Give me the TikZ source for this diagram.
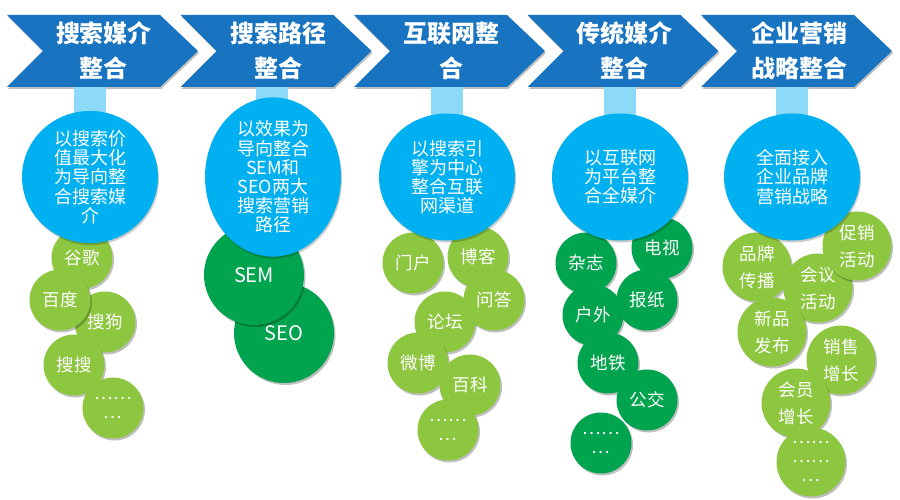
\documentclass[tikz,border=0pt]{standalone}
\usepackage{fontspec}
\setmainfont{Noto Sans CJK SC}
\usetikzlibrary{shadows,shapes.geometric}
\definecolor{chevblue}{RGB}{24,116,192}
\definecolor{stemblue}{RGB}{140,218,248}
\definecolor{circblue}{RGB}{0,176,240}
\definecolor{lgreen}{RGB}{141,198,63}
\definecolor{dgreen}{RGB}{0,163,78}
\tikzset{
  chev/.style={fill=chevblue, drop shadow={shadow xshift=1pt, shadow yshift=-2pt, opacity=0.25, fill=black}},
  head/.style={text=white, font=\bfseries\fontsize{24}{35}\selectfont, align=center, inner sep=0pt},
  stem/.style={draw=stemblue, line width=32pt},
  bcirc/.style={ellipse, fill=circblue, minimum width=136pt, minimum height=127pt, inner sep=0pt,
    text=white, align=center, font=\fontsize{18}{19.2}\selectfont,
    drop shadow={shadow xshift=1pt, shadow yshift=-2pt, opacity=0.2, fill=black}},
  gc/.style={circle, inner sep=0pt, text=white, align=center,
    drop shadow={shadow xshift=1.5pt, shadow yshift=-2pt, opacity=0.25, fill=black}},
  lg/.style={gc, fill=lgreen, minimum size=61pt, font=\fontsize{17.5}{19}\selectfont},
  dg/.style={gc, fill=dgreen, minimum size=61pt, font=\fontsize{17.5}{19}\selectfont},
  lgb/.style={gc, fill=lgreen, minimum size=69pt, font=\fontsize{17.5}{27}\selectfont},
  big/.style={gc, fill=dgreen, minimum size=100pt, font=\fontsize{20}{22}\selectfont},
}
\begin{document}
\begin{tikzpicture}[x=1pt,y=-1pt]
\useasboundingbox (0,0) rectangle (900,500);
\fill[white] (0,0) rectangle (900,500);
% chevrons
\foreach \xo in {7,180.5,354,527.5,701} {
  \fill[chev] (\xo,15) -- ++(153,0) -- ++(38,36) -- ++(-38,36) -- ++(-153,0) -- ++(36,-36) -- cycle;
}
% headers
\node[head] (h1) at (104,51) {搜索媒介\\整合};
\node[head] (h2) at (278,51) {搜索路径\\整合};
\node[head] (h3) at (451,51) {互联网整\\合};
\node[head] (h4) at (624,51) {传统媒介\\整合};
\node[head] (h5) at (799,51) {企业营销\\战略整合};
% stem tops
\coordinate (t1) at (90,87);
\coordinate (t2) at (272,87);
\coordinate (t3) at (447,87);
\coordinate (t4) at (620,87);
\coordinate (t5) at (792,87);
\coordinate (s1) at (90,130);
\coordinate (s2) at (272,130);
\coordinate (s3) at (447,130);
\coordinate (s4) at (620,130);
\coordinate (s5) at (792,130);
\foreach \i in {1,...,5} { \draw[stem] (t\i) -- (s\i); }
% column 1 green
\node[lg] (a1) at (82,258) {谷歌};
\node[lg] (a3) at (105,322) {搜狗};
\node[lg] (a2) at (60,300) {百度};
\node[lg] (a4) at (74,365) {搜搜};
\node[lg] (a5) at (113,408) {……\\…};
% column 2
\node[big] (b2) at (284,333) {SEO};
\node[big] (b1) at (254,275) {SEM};
% column 3
\node[lg] (c1) at (413,263) {门户};
\node[lg] (c2) at (478,257) {博客};
\node[lg] (c4) at (445,322) {论坛};
\node[lg] (c3) at (494,300) {问答};
\node[lg] (c5) at (418,363) {微博};
\node[lg] (c6) at (470,385) {百科};
\node[lg] (c7) at (448,430) {……\\…};
% column 4
\node[dg] (d1) at (586,263) {杂志};
\node[dg] (d2) at (662,248) {电视};
\node[dg] (d3) at (593,315) {户外};
\node[dg] (d4) at (647,300) {报纸};
\node[dg] (d5) at (608,363) {地铁};
\node[dg] (d6) at (647,400) {公交};
\node[dg] (d7) at (601,443) {……\\…};
% column 5
\node[lgb] (e2) at (757,267) {品牌\\传播};
\node[lgb] (e3) at (818,288) {会议\\活动};
\node[lgb] (e1) at (857,246) {促销\\活动};
\node[lgb] (e4) at (772,332) {新品\\发布};
\node[lgb] (e5) at (841,360) {销售\\增长};
\node[lgb] (e6) at (796,403) {会员\\增长};
\node[lgb, font=\fontsize{17.5}{19}\selectfont] (e7) at (811,462) {……\\……\\…};
% blue circles
\node[bcirc] (m1) at (90,177) {以搜索价\\值最大化\\为导向整\\合搜索媒\\介};
\node[bcirc] (m2) at (273,177) {以效果为\\导向整合\\SEM和\\SEO两大\\搜索营销\\路径};
\node[bcirc] (m3) at (447,177) {以搜索引\\擎为中心\\整合互联\\网渠道};
\node[bcirc] (m4) at (620,177) {以互联网\\为平台整\\合全媒介};
\node[bcirc] (m5) at (792,177) {全面接入\\企业品牌\\营销战略};
\end{tikzpicture}
\end{document}
